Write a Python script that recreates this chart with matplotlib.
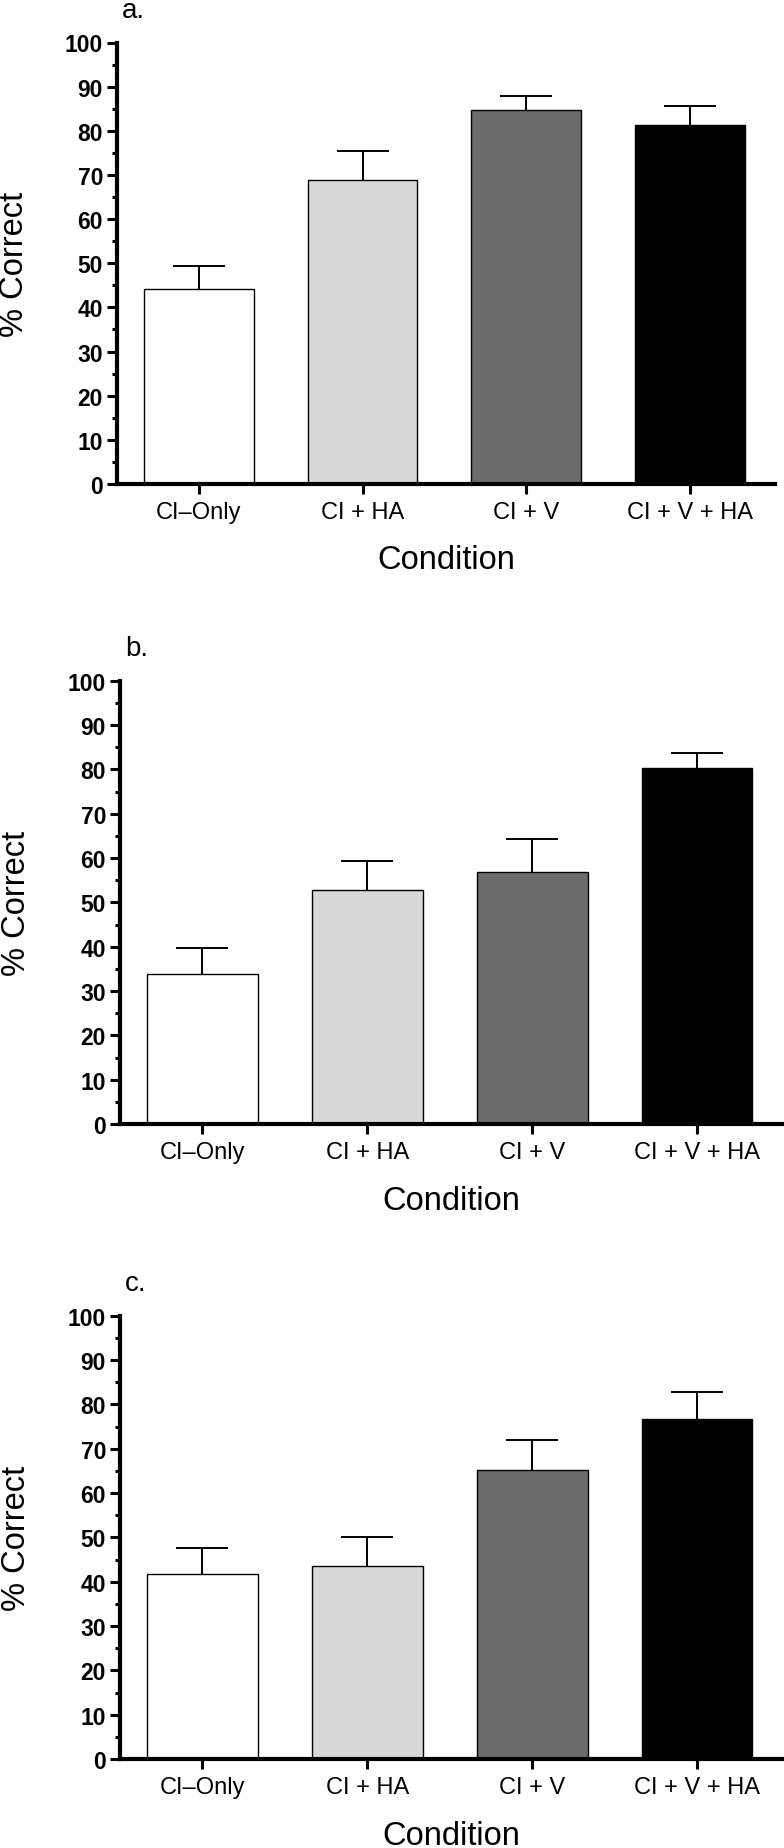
import matplotlib
matplotlib.use("Agg")
import matplotlib.pyplot as plt
from matplotlib.ticker import MultipleLocator

plt.rcParams['font.family'] = ['Liberation Sans', 'DejaVu Sans']

# -------- DATA --------
conditions = ["CI\u2013Only", "CI + HA", "CI + V", "CI + V + HA"]
bar_colors = ["#ffffff", "#d8d8d8", "#6b6b6b", "#000000"]
panel_names = ["a.", "b.", "c."]

means_a = [44.2, 68.8, 84.6, 81.3]
errs_a = [5.2, 6.6, 3.3, 4.4]

means_b = [33.8, 52.7, 56.8, 80.2]
errs_b = [6.0, 6.6, 7.5, 3.6]

means_c = [41.8, 43.6, 65.2, 76.7]
errs_c = [5.7, 6.5, 6.7, 6.1]

y_ticks = list(range(0, 101, 10))

# -------- FIGURE --------
W, H = 784, 1849
fig = plt.figure(figsize=(W / 100, H / 100), dpi=100)

# axes boxes in pixels: (left, top, right, bottom)
boxes = [(117, 43.5, 775, 485),
         (120, 681.7, 783, 1125),
         (120, 1316.7, 783, 1760)]

panels = [(means_a, errs_a), (means_b, errs_b), (means_c, errs_c)]

for (means, errs), name, (l, t, r, b) in zip(panels, panel_names, boxes):
    ax = fig.add_axes([l / W, 1 - b / H, (r - l) / W, (b - t) / H])
    x = list(range(len(conditions)))

    ax.bar(x, means, width=0.67, color=bar_colors, edgecolor="black",
           linewidth=1.0, zorder=2)
    eb = ax.errorbar(x, means, yerr=[[0] * len(errs), errs], fmt="none",
                     ecolor="black", elinewidth=1.4, capsize=19,
                     capthick=1.4, zorder=1)
    # only the upper whisker is shown, hide the cap sitting on the bar top
    eb[1][0].set_visible(False)

    ax.set_xlim(-0.5, 3.52)
    ax.set_ylim(0, 100)
    ax.set_xticks(x)
    ax.set_xticklabels(conditions, fontsize=17)
    ax.set_yticks(y_ticks)
    ax.set_yticklabels([str(v) for v in y_ticks], fontsize=16.5,
                       fontweight="bold")
    ax.yaxis.set_minor_locator(MultipleLocator(5))

    for side in ["top", "right"]:
        ax.spines[side].set_visible(False)
    for side in ["left", "bottom"]:
        ax.spines[side].set_linewidth(3.0)

    ax.tick_params(axis="y", which="major", length=7, width=2.2, pad=3)
    ax.tick_params(axis="y", which="minor", length=3.5, width=2.2)
    ax.tick_params(axis="x", which="major", length=7, width=2.2, pad=5)

    ax.set_xlabel("Condition", fontsize=23.5, va="center")
    ax.xaxis.set_label_coords(0.5, -0.172)
    ax.set_ylabel("% Correct", fontsize=23.5, va="center")
    ax.yaxis.set_label_coords(-103 / (r - l), 0.5)

    ax.text(0.008, 1.058, name, transform=ax.transAxes, fontsize=20,
            ha="left", va="baseline")

fig.savefig("out.png", dpi=100, facecolor="white")
